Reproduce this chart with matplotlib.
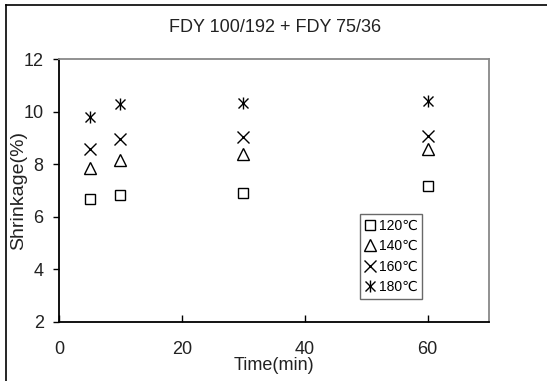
import matplotlib
matplotlib.use("Agg")
import matplotlib.pyplot as plt
from matplotlib.lines import Line2D

plt.rcParams['font.family'] = ['Liberation Sans', 'DejaVu Sans']

# data
time_min = [5, 10, 30, 60]
s120 = [6.67, 6.81, 6.91, 7.19]
s140 = [7.84, 8.15, 8.38, 8.57]
s160 = [8.57, 8.95, 9.05, 9.08]
s180 = [9.80, 10.27, 10.32, 10.39]
labels = ['120℃', '140℃', '160℃', '180℃']

fig = plt.figure(figsize=(5.47, 3.81), dpi=100)
ax = fig.add_axes([59/547, 1-322/381, 430/547, 263/381])

ms = 8
h1, = ax.plot(time_min, s120, ls='none', marker='s', ms=ms-1, mfc='none', mec='black', mew=1)
h2, = ax.plot(time_min, s140, ls='none', marker='^', ms=ms, mfc='none', mec='black', mew=1)
h3, = ax.plot(time_min, s160, ls='none', marker='x', ms=ms, mec='black', mew=1)
h4a, = ax.plot(time_min, s180, ls='none', marker='x', ms=ms-1, mec='black', mew=1)
h4b, = ax.plot(time_min, s180, ls='none', marker='|', ms=ms, mec='black', mew=1)

ax.set_xlim(0, 70)
ax.set_ylim(2, 12)
ax.set_xticks([0, 20, 40, 60])
ax.set_yticks([2, 4, 6, 8, 10, 12])
ax.tick_params(axis='x', direction='in', length=5, width=1, pad=14, labelsize=13, labelcolor='#222222')
ax.tick_params(axis='y', direction='out', length=4, width=1, pad=7, labelsize=13, labelcolor='#222222')
for s in ['left', 'bottom']:
    ax.spines[s].set_linewidth(1.3)
for s in ['top', 'right']:
    ax.spines[s].set_color('#888888')
    ax.spines[s].set_linewidth(1.3)

ax.set_xlabel('Time(min)', fontsize=13, color='#222222', va='center')
ax.xaxis.set_label_coords(0.5, (322-366)/263)
ax.set_ylabel('Shrinkage(%)', fontsize=14, color='#222222', va='center')
ax.yaxis.set_label_coords((19-59)/430, 0.5)
fig.text(0.503, 1-27/381, 'FDY 100/192 + FDY 75/36', ha='center', va='center', fontsize=13, color='#222222')

leg = ax.legend([h1, h2, h3, (h4a, h4b)], labels, loc='upper left',
                bbox_to_anchor=(0.70, 0.41), prop={'size': 10},
                frameon=True, fancybox=False,
                handlelength=0.8, handletextpad=0.2, borderpad=0.35, labelspacing=0.45,
                borderaxespad=0)
leg.get_frame().set_edgecolor('#444444')
leg.get_frame().set_linewidth(1)

# outer border lines (top and left only)
fig.add_artist(Line2D([6/547, 1], [1-5/381, 1-5/381], color='black', lw=1.2))
fig.add_artist(Line2D([6/547, 6/547], [0, 1-5/381], color='black', lw=1.2))

fig.savefig('out.png', dpi=100)
